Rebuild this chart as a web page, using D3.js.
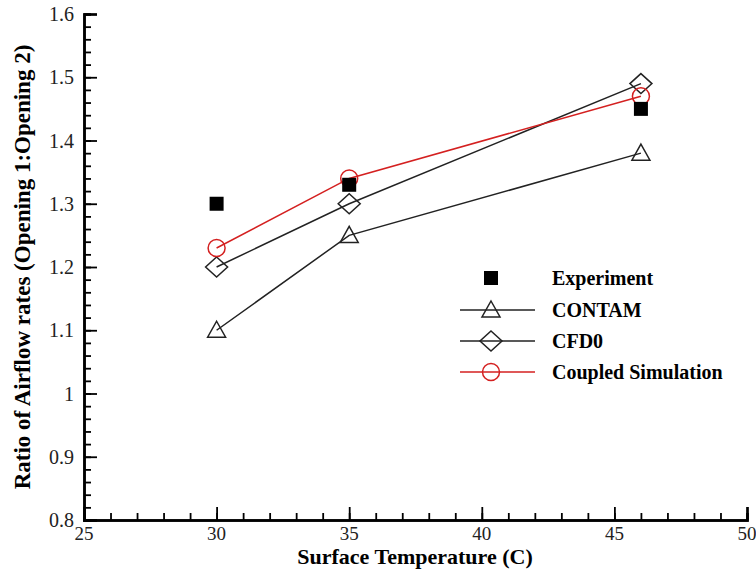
<!DOCTYPE html>
<meta charset="utf-8">
<style>
body { margin: 0; background: #fff; }
text { font-family: "Liberation Serif", "Times New Roman", serif; }
</style>
<svg width="756" height="569"></svg>
<script src="https://d3js.org/d3.v7.min.js"></script>
<script>

// data
var temps = [30, 35, 46];
var experiment = [1.30, 1.33, 1.45];
var contam = [1.10, 1.25, 1.38];
var cfd0 = [1.20, 1.30, 1.49];
var coupled = [1.23, 1.34, 1.47];
var xTicks = [25, 30, 35, 40, 45, 50];
var yTicks = [0.8, 0.9, 1, 1.1, 1.2, 1.3, 1.4, 1.5, 1.6];

var svg = d3.select("svg");

var x = d3.scaleLinear().domain([25, 50]).range([84, 747]);
var y = d3.scaleLinear().domain([0.8, 1.6]).range([520, 14]);

// axes: ticks point inward
var g = svg.append("g");
g.append("g")
    .attr("transform", "translate(0,520)")
    .call(d3.axisTop(x).tickValues(d3.range(25, 50.01, 1)).tickSize(7).tickFormat(""));
g.append("g")
    .attr("transform", "translate(0,520)")
    .call(d3.axisTop(x).tickValues(xTicks).tickSize(13).tickFormat(""));
g.append("g")
    .attr("transform", "translate(84,0)")
    .call(d3.axisRight(y).tickValues(d3.range(0.8, 1.601, 0.02)).tickSize(7).tickFormat(""));
g.append("g")
    .attr("transform", "translate(84,0)")
    .call(d3.axisRight(y).tickValues(yTicks).tickSize(13).tickFormat(""));
g.selectAll(".domain").attr("stroke", "#000").attr("stroke-width", 2.5);
g.selectAll(".tick line").attr("stroke", "#000").attr("stroke-width", 1.8);

// tick labels
svg.selectAll(".xl").data(xTicks).enter().append("text")
    .attr("x", function(d) { return x(d); })
    .attr("y", 540)
    .attr("text-anchor", "middle")
    .style("font-size", "19px").style("fill", "#222")
    .text(function(d) { return d; });
svg.selectAll(".yl").data(yTicks).enter().append("text")
    .attr("x", 74)
    .attr("y", function(d) { return y(d) + 7; })
    .attr("text-anchor", "end")
    .style("font-size", "20px").style("fill", "#222")
    .text(function(d) { return d; });

// axis titles
svg.append("text")
    .attr("x", 415).attr("y", 564)
    .attr("text-anchor", "middle")
    .style("font-size", "22px").style("font-weight", "bold")
    .text("Surface Temperature (C)");
svg.append("text")
    .attr("transform", "translate(30,267) rotate(-90)")
    .attr("text-anchor", "middle")
    .style("font-size", "23px").style("font-weight", "bold")
    .text("Ratio of Airflow rates (Opening 1:Opening 2)");

var line = d3.line()
    .x(function(d, i) { return x(temps[i]); })
    .y(function(d) { return y(d); });

var series = [
  { name: "CONTAM", values: contam, color: "#222", shape: "triangle" },
  { name: "CFD0", values: cfd0, color: "#222", shape: "diamond" },
  { name: "Coupled Simulation", values: coupled, color: "#d42020", shape: "circle" }
];

function marker(sel, shape, color) {
  if (shape == "triangle") {
    sel.append("path").attr("d", "M0,-9L9,7L-9,7Z");
  } else if (shape == "diamond") {
    sel.append("path").attr("d", "M0,-10L11,0L0,10L-11,0Z");
  } else {
    sel.append("circle").attr("r", 8.5);
  }
  sel.selectAll("path,circle")
      .attr("fill", "none")
      .attr("stroke", color)
      .attr("stroke-width", 1.5);
}

series.forEach(function(s) {
  svg.append("path")
      .datum(s.values)
      .attr("fill", "none")
      .attr("stroke", s.color)
      .attr("stroke-width", 1.5)
      .attr("d", line);
  s.values.forEach(function(v, i) {
    var m = svg.append("g").attr("transform", "translate(" + x(temps[i]) + "," + y(v) + ")");
    marker(m, s.shape, s.color);
  });
});

// experiment squares
svg.selectAll(".exp").data(experiment).enter().append("rect")
    .attr("x", function(d, i) { return x(temps[i]) - 7; })
    .attr("y", function(d) { return y(d) - 7; })
    .attr("width", 14).attr("height", 14)
    .attr("fill", "#000");

// legend
var leg = svg.append("g");
leg.append("rect").attr("x", 484).attr("y", 271).attr("width", 14).attr("height", 14).attr("fill", "#000");
leg.append("text").attr("x", 552).attr("y", 285)
    .style("font-size", "20px").style("font-weight", "bold").text("Experiment");
series.forEach(function(s, i) {
  var ly = 310 + i * 31;
  leg.append("line")
      .attr("x1", 460).attr("x2", 535).attr("y1", ly).attr("y2", ly)
      .attr("stroke", s.color).attr("stroke-width", 1.5);
  var m = leg.append("g").attr("transform", "translate(491," + ly + ")");
  marker(m, s.shape, s.color);
  leg.append("text").attr("x", 552).attr("y", ly + 7)
      .style("font-size", "20px").style("font-weight", "bold").text(s.name);
});

</script>
